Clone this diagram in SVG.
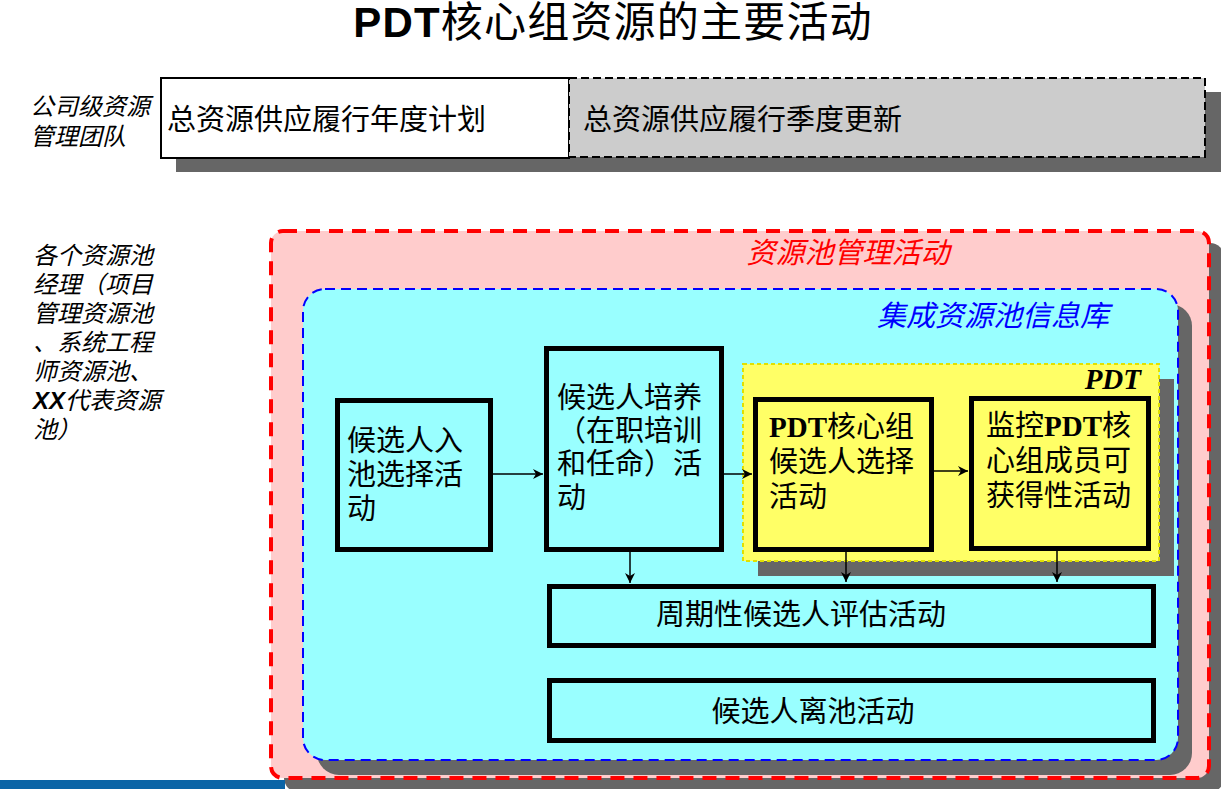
<svg xmlns="http://www.w3.org/2000/svg" width="1221" height="789" viewBox="0 0 1221 789">
<defs>
<style>
.t{font-family:"Liberation Sans","Noto Sans CJK SC",sans-serif;fill:#000}
.cjk{font-size:29px}
.lbl{font-size:24px;font-style:italic}
.box{stroke:#000;stroke-width:5}
.cy{fill:#99ffff}
.ye{fill:#ffff66}
.sh{fill:#666}
.pdt{font-family:"Liberation Serif",serif;font-weight:bold}
.con{stroke:#000;stroke-width:1.5;fill:none;marker-end:url(#ah)}
</style>
<marker id="ah" viewBox="0 0 10 10" refX="10" refY="5" markerWidth="10" markerHeight="10" markerUnits="userSpaceOnUse" orient="auto"><path d="M0,0 L10,5 L0,10 L3,5 z" fill="#000"/></marker>
</defs>
<rect width="1221" height="789" fill="#fff"/>
<text id="title" class="t" x="613" y="37" font-size="42" letter-spacing="1.2" text-anchor="middle"><tspan font-weight="bold">PDT</tspan>核心组资源的主要活动</text>

<g id="label-company">
<text class="t lbl" x="30" y="115">公司级资源</text>
<text class="t lbl" x="30" y="145">管理团队</text>
</g>
<g id="label-pools">
<text class="t lbl" x="33" y="264">各个资源池</text>
<text class="t lbl" x="33" y="293">经理（项目</text>
<text class="t lbl" x="33" y="322">管理资源池</text>
<text class="t lbl" x="33" y="351">、系统工程</text>
<text class="t lbl" x="33" y="380">师资源池、</text>
<text class="t lbl" x="33" y="409"><tspan font-weight="bold">XX</tspan>代表资源</text>
<text class="t lbl" x="33" y="438">池）</text>
</g>

<g id="top-row">
<rect class="sh" x="176" y="92" width="1045" height="80"/>
<g id="annual-plan">
<rect x="161" y="78" width="408" height="80" fill="#fff" stroke="#000" stroke-width="2"/>
<text class="t cjk" x="167" y="130">总资源供应履行年度计划</text>
</g>
<g id="quarterly-update">
<rect x="569" y="78" width="636" height="79" fill="#ccc" stroke="#000" stroke-width="2" stroke-dasharray="8 4"/>
<text class="t cjk" x="583" y="130">总资源供应履行季度更新</text>
</g>
</g>

<g id="pool-mgmt">
<rect class="sh" x="284" y="243" width="940" height="549" rx="14"/>
<rect x="271" y="231" width="938" height="547" rx="12" fill="#ffcccc" stroke="#ff0000" stroke-width="4" stroke-dasharray="14 9"/>
<text class="t" x="848" y="263" font-size="29" font-style="italic" text-anchor="middle" style="fill:#ff0000">资源池管理活动</text>
</g>

<g id="info-repo">
<rect class="sh" x="317" y="304" width="875" height="471" rx="22"/>
<rect x="303" y="289" width="875" height="471" rx="22" fill="#99ffff" stroke="#0000ff" stroke-width="2" stroke-dasharray="10 6"/>
<text class="t" x="993" y="326" font-size="29" font-style="italic" text-anchor="middle" style="fill:#0000ff">集成资源池信息库</text>
</g>

<g id="pdt-area">
<rect class="sh" x="758" y="379" width="416" height="197"/>
<rect x="743" y="364" width="416" height="197" fill="#ffff66" stroke="#e0e000" stroke-width="2" stroke-dasharray="4 3"/>
<text x="1141" y="389" font-family="Liberation Serif,serif" font-weight="bold" font-style="italic" font-size="29" text-anchor="end">PDT</text>
</g>

<g id="node-entry">
<rect class="box cy" x="337.5" y="400.5" width="153" height="149"/>
<text class="t cjk" x="347" y="451">候选人入</text>
<text class="t cjk" x="347" y="485">池选择活</text>
<text class="t cjk" x="347" y="519">动</text>
</g>

<g id="node-training">
<rect class="box cy" x="546.5" y="348.5" width="175" height="201"/>
<text class="t cjk" x="557" y="408">候选人培养</text>
<text class="t cjk" x="557" y="441">（在职培训</text>
<text class="t cjk" x="557" y="474">和任命）活</text>
<text class="t cjk" x="557" y="508">动</text>
</g>

<g id="node-pdt-select">
<rect class="box ye" x="755.5" y="399.5" width="176" height="150"/>
<text class="t cjk" x="769" y="437"><tspan class="pdt">PDT</tspan>核心组</text>
<text class="t cjk" x="769" y="472">候选人选择</text>
<text class="t cjk" x="769" y="507">活动</text>
</g>

<g id="node-monitor">
<rect class="box ye" x="971.5" y="398.5" width="177" height="150"/>
<text class="t cjk" x="986" y="436">监控<tspan class="pdt">PDT</tspan>核</text>
<text class="t cjk" x="986" y="471">心组成员可</text>
<text class="t cjk" x="986" y="506">获得性活动</text>
</g>

<g id="node-evaluate">
<rect class="box cy" x="549.5" y="586.5" width="604" height="59"/>
<text class="t cjk" x="801" y="625" text-anchor="middle">周期性候选人评估活动</text>
</g>

<g id="node-exit">
<rect class="box cy" x="549.5" y="680.5" width="604" height="60"/>
<text class="t cjk" x="813" y="722" text-anchor="middle">候选人离池活动</text>
</g>

<g id="connectors">
<path class="con" d="M493,474 L543,474"/>
<path class="con" d="M724,474 L752,474"/>
<path class="con" d="M934,471 L968,471"/>
<path class="con" d="M630,552 L630,583"/>
<path class="con" d="M846,552 L846,582"/>
<path class="con" d="M1057,551 L1057,582"/>
</g>

<rect id="footer-bar" x="0" y="780" width="285" height="9" fill="#0b64a6"/>
</svg>
